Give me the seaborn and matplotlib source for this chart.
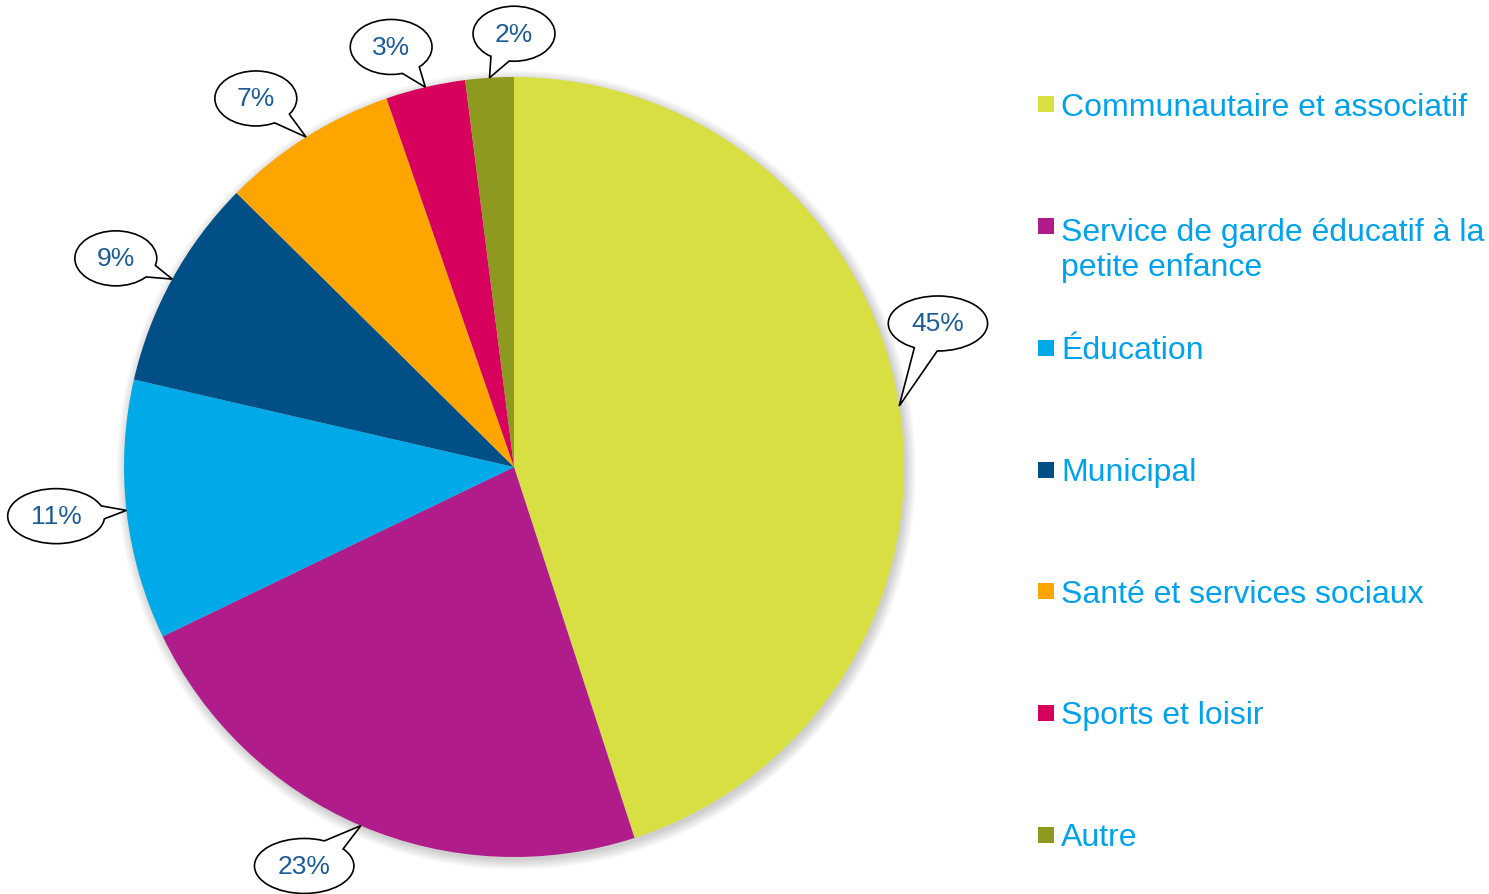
import numpy as np
import matplotlib
matplotlib.use("Agg")
import matplotlib.pyplot as plt
from matplotlib.patches import Ellipse, Polygon, Circle
import seaborn as sns

# data
categories = ["Communautaire et associatif",
              "Service de garde éducatif à la\npetite enfance",
              "Éducation",
              "Municipal",
              "Santé et services sociaux",
              "Sports et loisir",
              "Autre"]
shares = [45.0, 22.85, 10.75, 8.8, 7.3, 3.3, 2.0]
share_labels = ["45%", "23%", "11%", "9%", "7%", "3%", "2%"]
slice_colors = ["#D7DF43", "#B01C8A", "#00AAE9", "#004F86",
                "#FFA500", "#D8005D", "#8E991F"]

# bubble centres (pie radius = 1), one per slice
bubble_pos = [(1.087, 0.368), (-0.538, -1.023), (-1.174, -0.126),
              (-1.021, 0.535), (-0.662, 0.945), (-0.315, 1.077), (0.0, 1.111)]

sns.set_theme(style="white")
plt.rcParams['font.family'] = ['Liberation Sans', 'DejaVu Sans']

PX = 390.0  # pixels per data unit
fig = plt.figure(figsize=(14.89, 8.95), dpi=100)
ax = fig.add_axes([0, 0, 1, 1])

# soft shadow behind the pie
for i in range(8):
    ax.add_patch(Circle((0.006, -0.008), 1.0 + 0.0035 * i, color="black",
                        alpha=0.025, lw=0, zorder=0))

palette = sns.color_palette(slice_colors)
wedges, _ = ax.pie(shares, colors=palette, startangle=90, counterclock=False,
                   radius=1.0, center=(0, 0), frame=True,
                   wedgeprops=dict(linewidth=0, zorder=1))
ax.set_xlim(-514 / PX, (1489 - 514) / PX)
ax.set_ylim(-(895 - 468) / PX, 468 / PX)
ax.set_aspect("equal")
ax.axis("off")

# speech-bubble labels
fig.canvas.draw()
renderer = fig.canvas.get_renderer()
for w, lab, (cx, cy) in zip(wedges, share_labels, bubble_pos):
    mid = np.deg2rad((w.theta1 + w.theta2) / 2)
    tx, ty = np.cos(mid), np.sin(mid)
    txt = ax.text(cx, cy, lab, ha="center", va="center", fontsize=19,
                  color="#1B5C97", zorder=6)
    tw = txt.get_window_extent(renderer).width
    a = (tw * 1.2 + 36) / PX / 2
    b = 55 / PX / 2
    ax.add_patch(Ellipse((cx, cy), 2 * a, 2 * b, fc="white", ec="black",
                         lw=1.2, zorder=3))
    t0 = np.arctan2((ty - cy) / b, (tx - cx) / a)
    d = 0.24
    p1 = np.array([cx + a * np.cos(t0 - d), cy + b * np.sin(t0 - d)])
    p2 = np.array([cx + a * np.cos(t0 + d), cy + b * np.sin(t0 + d)])
    c = np.array([cx, cy])
    p1i = c + (p1 - c) * 0.9
    p2i = c + (p2 - c) * 0.9
    ax.add_patch(Polygon([p1i, p1, (tx, ty), p2, p2i], closed=True,
                         fc="white", ec="none", zorder=4))
    ax.plot([p1[0], tx, p2[0]], [p1[1], ty, p2[1]], color="black",
            lw=1.2, zorder=5, solid_joinstyle="miter")

# legend drawn by hand, fixed row spacing (first-line baselines)
for i, (name, col) in enumerate(zip(categories, palette)):
    base_px = 116 + i * 121.67
    extra = 38 * name.count("\n")
    ax.scatter((1045.5 - 514) / PX, (468 - (base_px - 10.5)) / PX, marker="s",
               s=125, color=col, linewidths=0, zorder=2)
    ax.text((1061 - 514) / PX, (468 - base_px - extra) / PX, name, ha="left",
            va="baseline", fontsize=23, color="#00A2EE", linespacing=1.2)

fig.savefig("out.png", dpi=100)
